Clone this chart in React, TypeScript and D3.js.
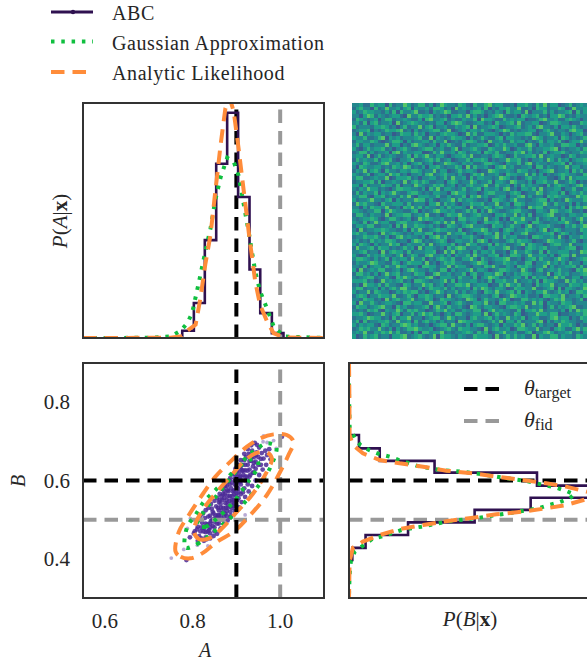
import { useEffect, useRef } from 'react';
import * as d3 from 'd3';

// A marginal (density vs A)
const histAEdges = [0.7765, 0.803, 0.828, 0.854, 0.879, 0.904, 0.93, 0.9545, 0.981, 1.0075];
const histAValues = [0.37, 1.79, 5.0, 8.9, 11.5, 7.2, 3.5, 1.27, 0.25];
const gaussA = [[0.55, 0], [0.7, 0.01], [0.75, 0.085], [0.773, 0.37], [0.788, 0.76], [0.799, 1.27], [0.814, 2.8], [0.829, 4.4], [0.841, 5.6], [0.852, 7.05], [0.864, 8.2], [0.879, 9.2], [0.894, 9.0], [0.905, 8.3], [0.917, 6.8], [0.929, 5.3], [0.943, 3.4], [0.954, 2.4], [0.97, 1.5], [0.985, 0.6], [1.008, 0.08], [1.1, 0]];
const analyticA = [[0.55, 0], [0.75, 0.01], [0.776, 0.085], [0.784, 0.31], [0.807, 0.68], [0.818, 2.04], [0.829, 3.74], [0.841, 5.27], [0.852, 7.48], [0.864, 9.86], [0.875, 11.73], [0.885, 12.24], [0.894, 11.56], [0.905, 9.69], [0.917, 7.48], [0.929, 5.27], [0.943, 2.89], [0.954, 1.7], [0.97, 0.85], [0.985, 0.25], [1.008, 0.03], [1.1, 0]];

// B marginal ([B, density])
const histBEdges = [0.716, 0.682, 0.65, 0.62, 0.587, 0.556, 0.525, 0.493, 0.461, 0.428, 0.397];
const histBValues = [0.33, 1.02, 2.84, 6.24, 8.6, 6.03, 4.17, 1.96, 0.55, 0.11];
const gaussB = [[0.9, 0], [0.835, 0], [0.7374, 0.02], [0.7076, 0.19], [0.6906, 0.38], [0.6779, 0.66], [0.6676, 1.0], [0.6608, 1.35], [0.6523, 1.66], [0.6353, 2.35], [0.6268, 3.06], [0.6225, 3.76], [0.6157, 4.42], [0.6072, 5.11], [0.5996, 5.83], [0.5928, 6.22], [0.5817, 6.88], [0.5732, 7.21], [0.5647, 7.49], [0.5544, 7.32], [0.5442, 6.97], [0.5374, 6.64], [0.529, 6.29], [0.5247, 5.96], [0.5204, 5.61], [0.5162, 5.28], [0.5077, 4.56], [0.5034, 4.17], [0.4974, 3.45], [0.4881, 2.79], [0.4821, 2.4], [0.4736, 1.74], [0.4566, 1.07], [0.4523, 0.8], [0.4353, 0.49], [0.4183, 0.19], [0.3927, 0.06], [0.3587, 0.02], [0.3076, 0]];
const analyticB = [[0.9, 0], [0.835, 0.01], [0.7161, 0.02], [0.6906, 0.13], [0.6693, 0.46], [0.6523, 1.02], [0.6438, 1.68], [0.6353, 2.46], [0.6251, 3.23], [0.6183, 4.12], [0.6098, 4.89], [0.6013, 5.77], [0.5928, 6.55], [0.5843, 7.21], [0.5715, 7.89], [0.563, 8.54], [0.5527, 7.89], [0.5374, 7.21], [0.529, 6.55], [0.5204, 5.77], [0.5136, 4.89], [0.5051, 4.12], [0.4974, 3.34], [0.4864, 2.46], [0.4761, 1.68], [0.4608, 1.02], [0.444, 0.46], [0.4285, 0.13], [0.3927, 0.02], [0.3, 0]];

// joint contours ([A, B])
const analyticOuter = [[0.7613, 0.4183], [0.7727, 0.4055], [0.7954, 0.4013], [0.8219, 0.414], [0.856, 0.4438], [0.8939, 0.4693], [0.9318, 0.5119], [0.9697, 0.563], [0.9962, 0.614], [1.0189, 0.6651], [1.0303, 0.6991], [1.0151, 0.7161], [0.9848, 0.7178], [0.9545, 0.7076], [0.9242, 0.6864], [0.8864, 0.6481], [0.8523, 0.6098], [0.8219, 0.563], [0.7916, 0.5119], [0.7689, 0.4693]];
const analyticInner = [[0.803, 0.4693], [0.8144, 0.4506], [0.8371, 0.4523], [0.8674, 0.4779], [0.9015, 0.5204], [0.9356, 0.563], [0.9697, 0.6225], [0.981, 0.6566], [0.9697, 0.6719], [0.9432, 0.6693], [0.9166, 0.6481], [0.8864, 0.6098], [0.856, 0.5715], [0.8257, 0.5289], [0.8068, 0.4906]];
const gaussOuter = [[0.7841, 0.4285], [0.8106, 0.4379], [0.8485, 0.4693], [0.8879, 0.506], [0.9204, 0.5459], [0.9507, 0.5868], [0.9772, 0.6327], [0.9909, 0.6864], [0.9697, 0.6949], [0.9432, 0.6779], [0.9129, 0.6481], [0.8788, 0.6055], [0.8485, 0.5715], [0.8257, 0.5459], [0.8068, 0.5119], [0.7879, 0.4821]];
const gaussInner = [[0.8106, 0.4864], [0.8295, 0.4821], [0.856, 0.5034], [0.8939, 0.5459], [0.9242, 0.5928], [0.9507, 0.6396], [0.9432, 0.6549], [0.9166, 0.6438], [0.8864, 0.6055], [0.856, 0.563], [0.8257, 0.5204]];

// ABC samples, faint ones are the low weight outliers
const faintSamples = [[0.7515, 0.402], [0.78, 0.424], [0.962, 0.714], [0.985, 0.702], [0.961, 0.699], [0.991, 0.682], [0.92, 0.512], [0.795, 0.503], [0.788, 0.478], [0.835, 0.433], [0.811, 0.435], [0.932, 0.669], [0.97, 0.697]];
const samples = [[0.786, 0.397], [0.794, 0.455], [0.803, 0.465], [1.004, 0.712], [0.947, 0.691], [0.886, 0.506], [0.805, 0.47], [0.812, 0.482], [0.818, 0.47], [0.822, 0.492], [0.826, 0.478], [0.83, 0.468], [0.815, 0.458], [0.834, 0.488], [0.838, 0.474], [0.842, 0.496], [0.828, 0.504], [0.846, 0.484], [0.85, 0.47], [0.836, 0.508], [0.852, 0.502], [0.848, 0.516], [0.856, 0.49], [0.858, 0.512], [0.862, 0.5], [0.844, 0.528], [0.854, 0.534], [0.86, 0.524], [0.866, 0.516], [0.87, 0.53], [0.864, 0.54], [0.872, 0.508], [0.868, 0.55], [0.875, 0.542], [0.878, 0.522], [0.88, 0.56], [0.874, 0.566], [0.884, 0.548], [0.886, 0.534], [0.882, 0.572], [0.89, 0.56], [0.888, 0.58], [0.894, 0.55], [0.892, 0.572], [0.896, 0.59], [0.9, 0.568], [0.898, 0.6], [0.904, 0.58], [0.902, 0.61], [0.908, 0.596], [0.906, 0.62], [0.912, 0.6], [0.91, 0.63], [0.916, 0.614], [0.914, 0.64], [0.92, 0.626], [0.918, 0.652], [0.924, 0.61], [0.926, 0.64], [0.93, 0.628], [0.922, 0.66], [0.934, 0.65], [0.928, 0.668], [0.938, 0.636], [0.94, 0.66], [0.936, 0.676], [0.944, 0.648], [0.946, 0.672], [0.95, 0.66], [0.952, 0.684], [0.958, 0.67], [0.956, 0.64], [0.962, 0.656], [0.966, 0.676], [0.97, 0.665], [0.975, 0.68], [0.87, 0.52], [0.876, 0.53], [0.872, 0.555], [0.88, 0.54], [0.885, 0.56], [0.89, 0.545], [0.895, 0.575], [0.9, 0.585], [0.905, 0.6], [0.91, 0.61], [0.915, 0.625], [0.92, 0.64], [0.86, 0.51], [0.865, 0.53], [0.855, 0.505], [0.85, 0.495], [0.845, 0.5], [0.84, 0.48], [0.835, 0.47], [0.825, 0.47], [0.88, 0.575], [0.885, 0.59], [0.895, 0.565], [0.905, 0.57], [0.89, 0.53], [0.875, 0.515], [0.865, 0.505], [0.86, 0.545], [0.87, 0.565], [0.878, 0.55], [0.898, 0.615], [0.908, 0.635], [0.925, 0.625], [0.935, 0.66], [0.945, 0.665], [0.93, 0.65], [0.94, 0.645]];
const samplesWide = [[0.812, 0.446], [0.82, 0.452], [0.826, 0.446], [0.832, 0.45], [0.84, 0.452], [0.848, 0.458], [0.856, 0.464], [0.824, 0.516], [0.818, 0.51], [0.83, 0.524], [0.836, 0.53], [0.842, 0.54], [0.85, 0.548], [0.856, 0.556], [0.862, 0.566], [0.868, 0.578], [0.874, 0.586], [0.88, 0.596], [0.886, 0.606], [0.892, 0.616], [0.898, 0.63], [0.904, 0.64], [0.91, 0.652], [0.918, 0.668], [0.926, 0.68], [0.934, 0.69], [0.942, 0.696], [0.864, 0.478], [0.872, 0.488], [0.88, 0.498], [0.888, 0.51], [0.896, 0.522], [0.904, 0.532], [0.912, 0.545], [0.92, 0.558], [0.928, 0.572], [0.936, 0.586], [0.944, 0.6], [0.952, 0.614], [0.96, 0.628], [0.968, 0.64], [0.978, 0.654], [0.84, 0.51], [0.846, 0.52], [0.852, 0.51], [0.858, 0.53], [0.862, 0.55], [0.866, 0.56], [0.872, 0.575], [0.878, 0.585], [0.884, 0.6], [0.89, 0.595], [0.896, 0.605], [0.902, 0.625], [0.908, 0.61], [0.914, 0.625], [0.92, 0.61], [0.926, 0.6], [0.932, 0.615], [0.938, 0.62], [0.944, 0.63], [0.95, 0.64], [0.956, 0.655], [0.87, 0.5], [0.878, 0.51], [0.886, 0.52], [0.894, 0.535], [0.902, 0.55], [0.91, 0.565], [0.918, 0.58], [0.926, 0.59], [0.86, 0.49], [0.85, 0.48], [0.84, 0.465], [0.83, 0.455], [0.848, 0.5], [0.84, 0.49], [0.83, 0.49], [0.82, 0.48], [0.81, 0.475], [0.88, 0.53], [0.89, 0.55], [0.9, 0.56], [0.91, 0.59], [0.92, 0.6], [0.93, 0.61], [0.94, 0.62], [0.895, 0.54], [0.905, 0.555], [0.915, 0.57]];

const xTicks = [0.6, 0.8, 1.0];
const yTicks = [0.4, 0.6, 0.8];
const targetTheta = [0.9, 0.6];
const fidTheta = [1.0, 0.5];

// noise field levels 0-9, estimated by eye: cells are too fine to read one by one
const fieldRows = [
  '4453364552634475346635247544365326446745533425564364735523463454',
  '3564426347445356254453665342745434536243556447334265534465237445',
  '5346554435362644573342545763344256653435426455372444635344562635',
  '4425763543455327446556343425564735342456743342654563425576343544',
  '3654345246634454335267445634335446275543364545523346744533565424',
  '4536256344527345654434355246764334553426445637344552346654423365',
  '6344435565342463447356244533545627344565234456345367443525546434',
  '3455624346556734253445663472345355464324576343445523564344367552',
  '4273545534423655364524435655423746335554243645566324457335424563',
  '5446334672545344456337254346554253464335625544343765344526534346',
  '3554465323466525344553644723435665342744533645524346355463245574',
  '4635534447355243675434525464336344556235464453367425445336655243',
  '5324645563424564334566345335724456433654475235446344556724344536',
  '3466353445267354455223647445365344526546334465735343624556434465',
  '4553724634543346264574355324556473344356542364455637345442365344',
  '3645446355632445733456463452344635565243447556342445375364524556',
  '5436533467445352456345234765435453346654325446367354434556263445',
  '4265445534365476343525564344652736445325674533445266354344735534',
  '3547356426443554665344735523464554233765445436553424567344526463',
  '5434624553756342445367345644353246573445326554473635243456544336',
  '4663345447235556342445534637445263554434765342356445533246374555',
  '3445563624454373564653344256534475344625543764435255644733465243',
  '5526344465536244375434656345243564457336445253645443263565434674',
  '4354755343246655443526473554346345625445367342554637344552446335',
  '3635446254574335664343554426755344235664443565234476345536245464',
  '4466325563443647325554463353446265745334552446735344265654433756',
  '5344574435625344476635324457364554334266543574433456625343754446',
  '3756443264455536344425573645324465563447345266534455743644352534',
  '4425365547334265746354435364554273446535644345327566344435264657',
  '5543446625754433562434675545334646253754334566443255437644563342',
  '3664354437245566345473342465574345644325564473536244567334355446',
  '4345565324664345237565445334266455437345242655744363454526443574',
  '5436247455335664454323564747345345236556434375542664334455743263',
  '3554663344526374465545342365435674443265534644257345564332546457',
  '4273445565443352647334565544362345576344256534465435724653444365',
  '5645334274565434355466243374556342446537355244673344556246534335',
  '3446556435236745443525674634435564324457364553342665445373254465',
  '4534364546653442576343456523554463675244335646554233476554346324',
  '5365425344756235444637345546243755344626453345736544235664473445',
  '3744563655343464527355434264676344532554467343256545634434566235',
  '4456344273565536344455623747354426355463342574465336264455534376',
  '5323645464435724653367445352544637443556243665347445535246637344',
  '4665435346254553744624356546335574264345567334245636443575423456',
  '3544576443365246555373424656443345765234465453366244574535364425',
  '4436245536447553342665534473655324436574335426565344725344556363',
  '5273454663345246754435436625344573554234665443753256345464432657',
  '3664535247456344365523674453446256335547624354665344372564534456',
  '4345663445326575434467325554364436245765343455362645534746335524',
  '5556342374545634266543445736254455343625564473445362655433746453',
  '3427554636443265344756345244665734555233647546344264557344365546',
  '4663445253564774335246554635344526476435542365544733456262554347',
  '5344736544235465663424575344635345326547445636254355743464523665',
  '3565244655473346425565344273456654344356234765453342665547344536',
  '4436553427356445734465236554343765246443575233664545324657443462',
  '5274464345543266455337445624564335547342664454533746254436553444',
  '3655345674426453344562574364453276435544325665473445246354567334',
  '4343656325447536564423465745335446623574544336255647344435263756',
  '5564234474356244635756342453664345537246454365234475546623344546',
  '3445765534263557344245663475344256445635337454624553346745524365',
  '4626344556437445263564535344276554433464725536344467253546544335',
  '5354553265344676453342456637443525664345254465734635344275564243',
  '3465644743525346675445234564365544327356445236654473442565335746',
  '4547335465746334252664557343445653646234574453356244675344563425',
  '5236456344255673456434726554354336555427346464533725446635443654',
];

const levelColor = d3.scaleLinear().domain([0, 9]).range([0.1, 0.92]);

const COLORS = {
  hist: '#2f1150',
  point: '#4b2a96',
  gauss: '#0fbf3f',
  analytic: '#ff8c3a',
  frame: '#333333',
  text: '#262626',
  fid: '#999999',
};
const DASH = '13.5,8';
const DOT = '3.5,6.8';
const SERIF = '"Liberation Serif", "Times New Roman", serif';

export default function App() {
  const svgRef = useRef<SVGSVGElement | null>(null);

  useEffect(() => {
    if (!svgRef.current) return;
    const svg = d3.select(svgRef.current);
    svg.selectAll('*').remove();
    svg.style('font-family', SERIF);

    const left = { x0: 83, x1: 324 };
    const right = { x0: 349, x1: 590 };
    const top = { y0: 103, y1: 338 };
    const bottom = { y0: 363, y1: 598 };

    const xA = d3.scaleLinear().domain([0.55, 1.1]).range([left.x0, left.x1]);
    const yDens = d3.scaleLinear().domain([0, 12]).range([top.y1, top.y0]);
    const yB = d3.scaleLinear().domain([0.3, 0.9]).range([bottom.y1, bottom.y0]);
    const xDens = d3.scaleLinear().domain([0, 8]).range([right.x0, right.x1]);

    const clip = (id: string, x0: number, x1: number, y0: number, y1: number) => {
      svg.append('clipPath').attr('id', id).append('rect')
        .attr('x', x0).attr('y', y0).attr('width', x1 - x0).attr('height', y1 - y0);
      return svg.append('g').attr('clip-path', `url(#${id})`);
    };
    const frame = (x0: number, x1: number, y0: number, y1: number) => {
      svg.append('rect')
        .attr('x', x0).attr('y', y0).attr('width', x1 - x0).attr('height', y1 - y0)
        .attr('fill', 'none').attr('stroke', COLORS.frame).attr('stroke-width', 2);
    };
    const stroke = (g: any, d: string, color: string, dash: string | null, w = 4) => {
      g.append('path').attr('d', d).attr('fill', 'none').attr('stroke', color)
        .attr('stroke-width', w).attr('stroke-dasharray', dash);
    };
    const vline = (g: any, x: number, y0: number, y1: number, color: string) =>
      stroke(g, `M${x},${y1}L${x},${y0}`, color, DASH);
    const hline = (g: any, y: number, x0: number, x1: number, color: string) =>
      stroke(g, `M${x0},${y}L${x1},${y}`, color, DASH);

    // top left: P(A|x)
    const gTop = clip('clip-top', left.x0, left.x1, top.y0, top.y1);
    vline(gTop, xA(targetTheta[0]), top.y0, top.y1, '#000');
    vline(gTop, xA(fidTheta[0]), top.y0, top.y1, COLORS.fid);
    const lineA = d3.line<number[]>().x((d) => xA(d[0])).y((d) => yDens(d[1]));
    const stepA: number[][] = [[histAEdges[0], 0], ...histAValues.map((v, i) => [histAEdges[i], v]), [histAEdges[histAEdges.length - 1], 0]];
    stroke(gTop, lineA.curve(d3.curveStepAfter)(stepA) ?? '', COLORS.hist, null, 2.6);
    stroke(gTop, lineA.curve(d3.curveLinear)(gaussA) ?? '', COLORS.gauss, DOT);
    stroke(gTop, lineA.curve(d3.curveLinear)(analyticA) ?? '', COLORS.analytic, DASH);
    frame(left.x0, left.x1, top.y0, top.y1);

    // top right: the data field, no frame
    const nCells = fieldRows.length;
    const cellX = d3.scaleBand<number>().domain(d3.range(nCells)).range([352, 587]);
    const cellY = d3.scaleBand<number>().domain(d3.range(nCells)).range([top.y0, top.y1]);
    const cells = fieldRows.flatMap((row, r) => row.split('').map((ch, c) => ({ r, c, v: +ch })));
    svg.append('g').attr('shape-rendering', 'crispEdges')
      .selectAll('rect').data(cells).join('rect')
      .attr('x', (d) => cellX(d.c) ?? 0)
      .attr('y', (d) => cellY(d.r) ?? 0)
      .attr('width', cellX.bandwidth() + 0.5)
      .attr('height', cellY.bandwidth() + 0.5)
      .attr('fill', (d) => d3.interpolateViridis(levelColor(d.v)));

    // bottom left: joint
    const gJoint = clip('clip-joint', left.x0, left.x1, bottom.y0, bottom.y1);
    gJoint.append('g').selectAll('circle').data(faintSamples).join('circle')
      .attr('cx', (d) => xA(d[0])).attr('cy', (d) => yB(d[1])).attr('r', 1.9)
      .attr('fill', COLORS.point).attr('fill-opacity', 0.4);
    gJoint.append('g').selectAll('circle').data([...samples, ...samplesWide]).join('circle')
      .attr('cx', (d) => xA(d[0])).attr('cy', (d) => yB(d[1])).attr('r', 2.4)
      .attr('fill', COLORS.point).attr('fill-opacity', 0.85);
    hline(gJoint, yB(fidTheta[1]), left.x0, left.x1, COLORS.fid);
    vline(gJoint, xA(fidTheta[0]), bottom.y0, bottom.y1, COLORS.fid);
    const contour = d3.line<number[]>().x((d) => xA(d[0])).y((d) => yB(d[1])).curve(d3.curveCatmullRomClosed);
    [gaussOuter, gaussInner].forEach((c) => stroke(gJoint, contour(c) ?? '', COLORS.gauss, DOT));
    [analyticOuter, analyticInner].forEach((c) => stroke(gJoint, contour(c) ?? '', COLORS.analytic, DASH));
    hline(gJoint, yB(targetTheta[1]), left.x0, left.x1, '#000');
    vline(gJoint, xA(targetTheta[0]), bottom.y0, bottom.y1, '#000');
    frame(left.x0, left.x1, bottom.y0, bottom.y1);

    // bottom right: P(B|x)
    const gRight = clip('clip-right', right.x0, right.x1, bottom.y0, bottom.y1);
    hline(gRight, yB(targetTheta[1]), right.x0, right.x1, '#000');
    hline(gRight, yB(fidTheta[1]), right.x0, right.x1, COLORS.fid);
    const lineB = d3.line<number[]>().x((d) => xDens(d[1])).y((d) => yB(d[0]));
    const stepB: number[][] = [[histBEdges[0], 0], ...histBValues.map((v, i) => [histBEdges[i], v]), [histBEdges[histBEdges.length - 1], 0]];
    stroke(gRight, lineB.curve(d3.curveStepBefore)(stepB) ?? '', COLORS.hist, null, 2.6);
    stroke(gRight, lineB.curve(d3.curveLinear)(gaussB) ?? '', COLORS.gauss, DOT);
    stroke(gRight, lineB.curve(d3.curveLinear)(analyticB) ?? '', COLORS.analytic, DASH);
    frame(right.x0, right.x1, bottom.y0, bottom.y1);

    // tick labels
    const label = (x: number, y: number, anchor: string, size = 21) =>
      svg.append('text').attr('x', x).attr('y', y).attr('text-anchor', anchor)
        .attr('font-size', size).attr('fill', COLORS.text);
    xTicks.forEach((t) => label(xA(t), 628, 'middle').text(d3.format('.1f')(t)));
    yTicks.forEach((t) => label(70, yB(t) + 7, 'end').text(d3.format('.1f')(t)));

    // axis titles
    label(205, 657, 'middle', 20).attr('font-style', 'italic').text('A');
    label(0, 0, 'middle', 20).attr('transform', 'translate(25,481) rotate(-90)').attr('font-style', 'italic').text('B');
    const condLabel = (t: any, name: string) => {
      t.append('tspan').attr('font-style', 'italic').text('P');
      t.append('tspan').text('(');
      t.append('tspan').attr('font-style', 'italic').text(name);
      t.append('tspan').text('|');
      t.append('tspan').attr('font-weight', 'bold').text('x');
      t.append('tspan').text(')');
    };
    condLabel(label(0, 0, 'middle').attr('transform', 'translate(67,221) rotate(-90)'), 'A');
    condLabel(label(470, 626, 'middle'), 'B');

    // legend, top left
    const legendX = [51, 93];
    const legendRows = [
      { name: 'ABC', color: COLORS.hist, dash: null, y: 12, w: 3.2 },
      { name: 'Gaussian Approximation', color: COLORS.gauss, dash: DOT, y: 41.5, w: 4 },
      { name: 'Analytic Likelihood', color: COLORS.analytic, dash: DASH, y: 72, w: 4 },
    ];
    legendRows.forEach((row) => {
      stroke(svg, `M${legendX[0]},${row.y}L${legendX[1]},${row.y}`, row.color, row.dash, row.w);
      label(112, row.y + 8, 'start', 20).attr('letter-spacing', 0.6).text(row.name);
    });
    svg.append('circle').attr('cx', 73).attr('cy', 12).attr('r', 2.2).attr('fill', COLORS.hist);

    // legend, inside the B panel
    const thetaRows = [
      { sub: 'target', color: '#000', y: 389 },
      { sub: 'fid', color: COLORS.fid, y: 421 },
    ];
    thetaRows.forEach((row) => {
      stroke(svg, `M464,${row.y}L507,${row.y}`, row.color, DASH);
      const t = label(524, row.y + 6, 'start', 22);
      t.append('tspan').attr('font-style', 'italic').text('θ');
      t.append('tspan').attr('font-size', 16).attr('dy', 3).text(row.sub);
    });
  }, []);

  return (
    <svg
      ref={svgRef}
      width={587}
      height={663}
      style={{ position: 'absolute', left: 0, top: 0, display: 'block', background: '#fff' }}
      role="img"
      aria-label="Posterior corner plot"
    />
  );
}
